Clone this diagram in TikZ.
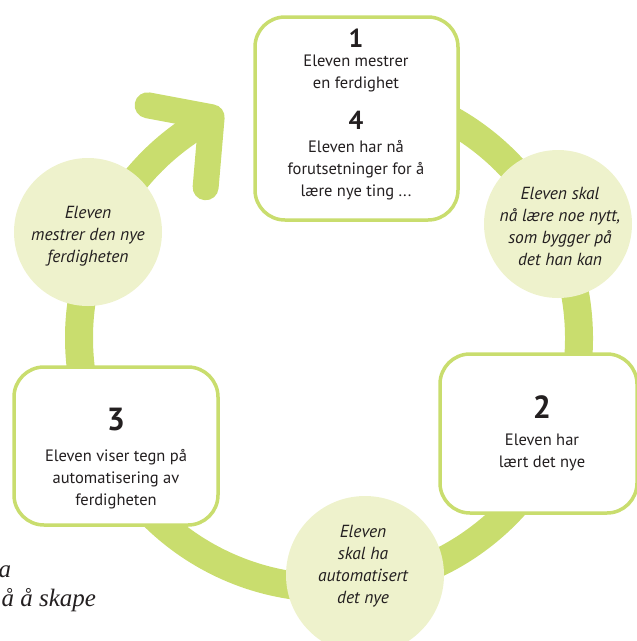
\documentclass[tikz,border=0pt]{standalone}
\usepackage{fontspec}
\setmainfont{PT Sans}
\newfontfamily\bookfont{Liberation Serif}
\definecolor{ringgreen}{HTML}{C9DD6E}
\definecolor{dotgreen}{HTML}{EEF2CC}
\definecolor{ink}{HTML}{231F20}
\tikzstyle{ring}=[ringgreen, line width=28pt]
\tikzstyle{arrow head}=[ringgreen, line width=26pt, line cap=round, line join=round]
\tikzstyle{stage}=[draw=ringgreen, line width=3.5pt, fill=white, rounded corners=30pt]
\tikzstyle{transition}=[fill=dotgreen, circle, minimum size=148pt, inner sep=0]
\tikzstyle{number}=[text=ink, font=\fontsize{26}{30}\selectfont\bfseries]
\tikzstyle{big number}=[text=ink, font=\fontsize{32}{36}\selectfont\bfseries]
\tikzstyle{caption}=[text=ink, align=center, font=\fontsize{16.5}{22}\selectfont]
\tikzstyle{note}=[text=ink, align=center, font=\fontsize{17.5}{22}\selectfont\itshape]
\tikzstyle{margin text}=[text=ink, anchor=west, font=\bookfont\itshape\fontsize{25}{28}\selectfont]

\begin{document}
\begin{tikzpicture}[x=1pt, y=-1pt]
      \useasboundingbox (0,0) rectangle (637,641);
      \clip (0,0) rectangle (637,641);

      \coordinate (hub) at (329,338);
      \draw[ring] (hub) ++(265:250) arc[start angle=265, end angle=602, radius=250] coordinate (tip);
      \draw[arrow head] (tip) ++(-64,-12) -- (tip) -- ++(-6,70);

      \node[transition] (mastered) at (88,232) {};
      \node[note] (mastered_text) at (88,236) {Eleven\\mestrer den nye\\ferdigheten};

      \node[transition] (learn_new) at (558,224) {};
      \node[note] (learn_new_text) at (560,226) {Eleven skal\\nå lære noe nytt,\\som bygger på\\det han kan};

      \node[transition, minimum size=158pt] (automate) at (365,575) {};
      \node[note] (automate_text) at (363,566) {Eleven\\skal ha\\automatisert\\det nye};

      \node[stage, minimum width=203pt, minimum height=203pt] (stage_one) at (356.5,118.5) {};
      \node[number] (one_num) at (356,38) {1};
      \node[caption] (one_text) at (356,73) {Eleven mestrer\\en ferdighet};
      \node[number] (four_num) at (356,120) {4};
      \node[caption] (four_text) at (356,170) {Eleven har nå\\forutsetninger for å\\lære nye ting ...};

      \node[stage, minimum width=197pt, minimum height=159pt] (stage_two) at (538.5,433.5) {};
      \node[big number] (two_num) at (542,407) {2};
      \node[caption] (two_text) at (542,452) {Eleven har\\lært det nye};

      \node[stage, minimum width=204pt, minimum height=158pt] (stage_three) at (116,446) {};
      \node[big number] (three_num) at (116,420) {3};
      \node[caption] (three_text) at (116,479) {Eleven viser tegn på\\automatisering av\\ferdigheten};

      \node[margin text] (cut_a) at (-5,572) {a};
      \node[margin text] (cut_skape) at (-2,600) {å å skape};
    \end{tikzpicture}
\end{document}
